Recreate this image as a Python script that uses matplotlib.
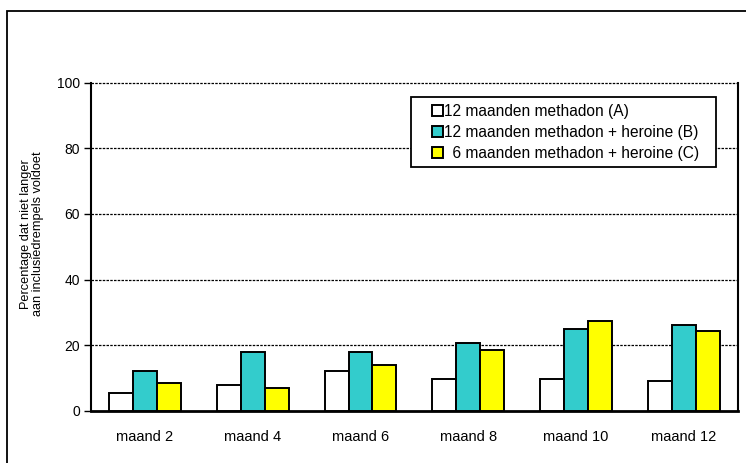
import matplotlib
matplotlib.use("Agg")
import matplotlib.pyplot as plt
from matplotlib.patches import Rectangle
from matplotlib.container import BarContainer
from matplotlib.legend_handler import HandlerPatch, update_from_first_child
import numpy as np

plt.rcParams['font.family'] = ['Liberation Sans', 'DejaVu Sans']

months = ['maand 2', 'maand 4', 'maand 6', 'maand 8', 'maand 10', 'maand 12']
series_names = ['12 maanden methadon (A)',
                '12 maanden methadon + heroine (B)',
                '  6 maanden methadon + heroine (C)']
methadon_a = [5.5, 7.8, 12.2, 9.7, 9.7, 9.1]
heroine_b = [12.2, 17.8, 17.8, 20.7, 25.0, 26.2]
heroine_c = [8.5, 6.8, 14.0, 18.4, 27.4, 24.4]
colors = ['white', '#33CCCC', '#FFFF00']


def square_at_right(legend, orig_handle, xdescent, ydescent, width, height, fontsize):
    # small square swatch pushed to the right end of the handle box
    size = 0.72 * fontsize
    return Rectangle((width - size - xdescent, (height - size) / 2 - ydescent), size, size)


fig = plt.figure(figsize=(7.46, 4.63), dpi=100)
ax = fig.add_axes([0.122, 0.113, 0.867, 0.708])

# outer frame around the chart area
fig.patches.append(Rectangle((7 / 746, -0.05), 1.0, 1 - 11 / 463 + 0.05,
                             transform=fig.transFigure, fill=False,
                             edgecolor='black', linewidth=1.3))

x = np.arange(len(months))
w = 0.222
for i, (vals, col, name) in enumerate(zip([methadon_a, heroine_b, heroine_c], colors, series_names)):
    ax.bar(x + (i - 1) * w, vals, w, color=col, edgecolor='black',
           linewidth=1.4, label=name, zorder=3)

ax.set_xlim(-0.5, len(months) - 0.5)
ax.set_ylim(0, 100)
ax.set_yticks([0, 20, 40, 60, 80, 100])
ax.set_xticks(x)
ax.set_xticklabels(months, fontsize=10.5)
ax.tick_params(axis='x', length=0, pad=14)
ax.tick_params(axis='y', length=5, width=1, labelsize=10, pad=3)
for y in [20, 40, 60, 80, 100]:
    ax.axhline(y, color='black', linestyle=(0, (2, 1)), linewidth=0.9,
               zorder=1, clip_on=False)
ax.spines['top'].set_visible(False)
for side in ['left', 'right']:
    ax.spines[side].set_linewidth(1.5)
ax.spines['bottom'].set_linewidth(2.0)

ax.set_ylabel('Percentage dat niet langer\naan inclusiedrempels voldoet',
              fontsize=9.2, linespacing=1.0)
ax.yaxis.set_label_coords(-0.073, 0.54)

swatch = HandlerPatch(patch_func=square_at_right, update_func=update_from_first_child)
leg = ax.legend(loc='upper left', bbox_to_anchor=(0.4946, 0.956), fontsize=11.2,
                frameon=False, handler_map={BarContainer: swatch},
                handlelength=1.65, handleheight=0.8, handletextpad=0.05,
                labelspacing=0.4, borderpad=0.4, borderaxespad=0)
leg.set_zorder(5)

# legend box: wider on the right than the default padding gives
fig.canvas.draw()
bb = leg.get_window_extent().transformed(fig.transFigure.inverted())
pad_r = 11 / 746
box = Rectangle((bb.x0, bb.y0), bb.width + pad_r, bb.height,
                transform=fig.transFigure, facecolor='white',
                edgecolor='black', linewidth=1.3, zorder=4)
fig.patches.append(box)
# legend moves to the figure so it sits on top of the box
leg.remove()
fig.legends.append(leg)
leg.set_figure(fig)

fig.savefig('out.png', dpi=100)
